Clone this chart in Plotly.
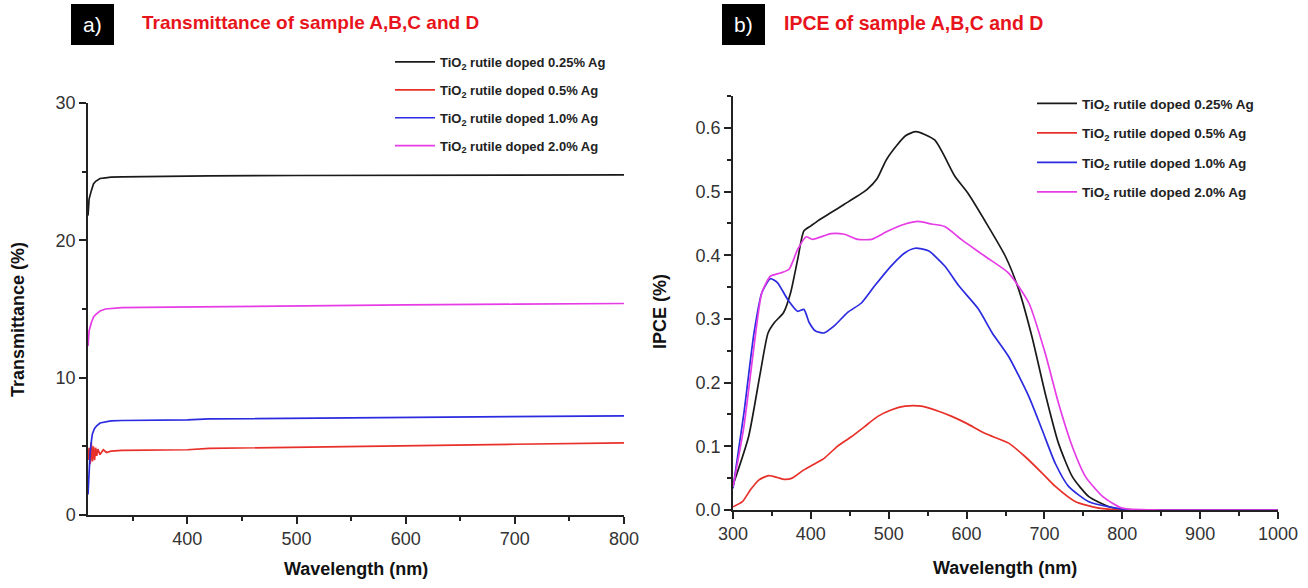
import plotly.graph_objects as go

# ---------------- data ----------------
series_names = [
    "TiO<sub>2</sub> rutile doped 0.25% Ag",
    "TiO<sub>2</sub> rutile doped 0.5% Ag",
    "TiO<sub>2</sub> rutile doped 1.0% Ag",
    "TiO<sub>2</sub> rutile doped 2.0% Ag",
]
colors = ["#1a1a1a", "#e8302a", "#2b2be0", "#e63ce6"]

# Transmittance (panel a)
tr_x_black = [309, 310, 312, 314, 316, 318, 320, 325, 330, 340, 350, 380, 420, 500, 600, 700, 800]
tr_y_black = [21.8, 23.0, 23.6, 24.1, 24.3, 24.4, 24.5, 24.55, 24.6, 24.62, 24.63, 24.65, 24.7, 24.72, 24.74, 24.75, 24.76]
tr_x_red = [309, 310, 311, 312, 313, 314, 315, 316, 317, 318, 320, 323, 326, 330, 340, 360, 400, 420, 500, 600, 700, 800]
tr_y_red = [4.0, 4.9, 3.7, 5.3, 3.9, 5.0, 4.0, 4.9, 4.3, 4.8, 4.4, 4.75, 4.55, 4.65, 4.7, 4.72, 4.75, 4.85, 4.95, 5.05, 5.15, 5.25]
tr_x_blue = [309, 310, 311, 312, 313, 315, 317, 320, 325, 330, 340, 360, 400, 420, 500, 600, 700, 800]
tr_y_blue = [1.5, 3.5, 4.6, 5.3, 5.9, 6.3, 6.5, 6.7, 6.8, 6.85, 6.88, 6.9, 6.92, 7.0, 7.05, 7.1, 7.15, 7.22]
tr_x_mag = [309, 310, 312, 314, 316, 318, 320, 325, 330, 340, 360, 400, 420, 500, 600, 700, 800]
tr_y_mag = [12.3, 13.4, 14.0, 14.4, 14.6, 14.75, 14.85, 15.0, 15.05, 15.1, 15.12, 15.15, 15.2, 15.25, 15.3, 15.35, 15.4]

# IPCE (panel b)
ip_x_black = [300, 320, 335, 345, 353, 365, 374, 383, 391, 400, 409, 426, 443, 460, 472, 485, 497, 510, 522, 535, 559, 585, 602, 628, 650, 667, 684, 701, 718, 736, 757, 783, 800, 850, 1000]
ip_y_black = [0.039, 0.115, 0.215, 0.278, 0.294, 0.31, 0.341, 0.393, 0.438, 0.446, 0.454, 0.467, 0.48, 0.493, 0.503, 0.52, 0.55, 0.572, 0.588, 0.594, 0.581, 0.524, 0.497, 0.445, 0.398, 0.346, 0.272, 0.183, 0.105, 0.052, 0.021, 0.005, 0.001, 0.0, 0.0]
ip_x_red = [300, 312, 322, 333, 346, 357, 366, 376, 391, 404, 417, 434, 452, 469, 486, 503, 521, 542, 564, 581, 600, 624, 654, 675, 697, 714, 740, 770, 800, 850, 1000]
ip_y_red = [0.005, 0.013, 0.031, 0.047, 0.054, 0.051, 0.048, 0.05, 0.063, 0.072, 0.081, 0.1, 0.115, 0.131, 0.147, 0.157, 0.163, 0.163, 0.155, 0.147, 0.136, 0.12, 0.105, 0.084, 0.058, 0.037, 0.013, 0.003, 0.0, 0.0, 0.0]
ip_x_blue = [300, 314, 327, 337, 348, 357, 370, 383, 391, 398, 406, 417, 430, 447, 465, 482, 503, 521, 534, 551, 572, 590, 615, 633, 654, 680, 697, 714, 731, 757, 792, 810, 850, 1000]
ip_y_blue = [0.034, 0.152, 0.278, 0.341, 0.363, 0.357, 0.331, 0.312, 0.315, 0.294, 0.281, 0.278, 0.289, 0.31, 0.325, 0.352, 0.383, 0.404, 0.411, 0.407, 0.383, 0.352, 0.316, 0.278, 0.241, 0.178, 0.126, 0.073, 0.037, 0.013, 0.003, 0.0, 0.0, 0.0]
ip_x_mag = [300, 314, 327, 337, 348, 361, 372, 383, 394, 402, 426, 443, 460, 478, 499, 521, 538, 555, 572, 594, 624, 654, 680, 701, 718, 736, 753, 775, 800, 850, 1000]
ip_y_mag = [0.036, 0.131, 0.257, 0.341, 0.367, 0.372, 0.378, 0.409, 0.429, 0.425, 0.434, 0.433, 0.425, 0.425, 0.438, 0.449, 0.453, 0.449, 0.445, 0.424, 0.398, 0.372, 0.325, 0.246, 0.168, 0.099, 0.052, 0.021, 0.003, 0.0, 0.0]

tr_data = [(tr_x_black, tr_y_black), (tr_x_red, tr_y_red), (tr_x_blue, tr_y_blue), (tr_x_mag, tr_y_mag)]
ip_data = [(ip_x_black, ip_y_black), (ip_x_red, ip_y_red), (ip_x_blue, ip_y_blue), (ip_x_mag, ip_y_mag)]

# ---------------- figure ----------------
W, H = 1308, 588
FONT = "Liberation Sans, Arial, sans-serif"
fig = go.Figure()

for i, (xs, ys) in enumerate(tr_data):
    fig.add_trace(go.Scatter(x=xs, y=ys, mode="lines", name="<b>" + series_names[i] + "</b>",
                             line=dict(color=colors[i], width=1.7),
                             xaxis="x", yaxis="y", legend="legend",
                             legendgroup="a%d" % i))
for i, (xs, ys) in enumerate(ip_data):
    fig.add_trace(go.Scatter(x=xs, y=ys, mode="lines", name="<b>" + series_names[i] + "</b>",
                             line=dict(color=colors[i], width=1.7, shape="spline", smoothing=0.6),
                             xaxis="x2", yaxis="y2", legend="legend2",
                             legendgroup="b%d" % i))

def px(x):
    return x / W

def py(y):
    return 1 - y / H

tickfont = dict(family=FONT, size=18, color="#333333")
minor_common = dict(ticks="outside", ticklen=4, tickwidth=1.5, tickcolor="#222222")
axis_common = dict(showgrid=False, zeroline=False, showline=True, linecolor="#222222",
                   linewidth=1.5, ticks="outside", ticklen=7, tickwidth=1.5,
                   tickcolor="#222222", tickfont=tickfont, mirror=False, automargin=False)

legend_common = dict(bgcolor="rgba(0,0,0,0)", traceorder="grouped",
                     xanchor="left", yanchor="top", itemclick=False, itemwidth=40)

fig.update_layout(
    width=W, height=H,
    margin=dict(l=0, r=0, t=0, b=0),
    paper_bgcolor="white", plot_bgcolor="white",
    showlegend=True,
    xaxis=dict(domain=[px(88), px(624)], range=[309, 800], dtick=100, tick0=0,
               minor=dict(dtick=50, tick0=0, **minor_common),
               anchor="y", **axis_common),
    yaxis=dict(domain=[py(515), py(103)], range=[0, 30], dtick=10, tick0=0,
               minor=dict(dtick=5, tick0=0, **minor_common),
               anchor="x", **axis_common),
    xaxis2=dict(domain=[px(733), px(1278)], range=[300, 1000], dtick=100, tick0=0,
                minor=dict(dtick=50, tick0=0, **minor_common),
                anchor="y2", **axis_common),
    yaxis2=dict(domain=[py(510), py(96)], range=[0, 0.65], dtick=0.1, tick0=0, tickformat=".1f",
                minor=dict(dtick=0.05, tick0=0, **minor_common),
                anchor="x2", **axis_common),
    legend=dict(x=px(390), y=py(47), tracegroupgap=8,
                font=dict(family=FONT, size=13, color="#222222"), **legend_common),
    legend2=dict(x=px(1032), y=py(88), tracegroupgap=9,
                 font=dict(family=FONT, size=13.5, color="#222222"), **legend_common),
)

# axis titles
axis_titles = [
    ("Wavelength (nm)", 356, 569, 0),
    ("Wavelength (nm)", 1005, 568, 0),
    ("Transmittance (%)", 18, 320, -90),
    ("IPCE (%)", 660, 312, -90),
]
for txt, x, y, ang in axis_titles:
    fig.add_annotation(xref="paper", yref="paper", x=px(x), y=py(y), text="<b>%s</b>" % txt,
                       showarrow=False, xanchor="center", yanchor="middle", textangle=ang,
                       font=dict(family=FONT, size=18, color="#111111"))

# panel labels (black boxes) and red titles
for (x0, x1, lab) in [(71, 114, "a)"), (722, 765, "b)")]:
    fig.add_shape(type="rect", xref="paper", yref="paper", x0=px(x0), x1=px(x1), y0=py(45), y1=py(4),
                  fillcolor="black", line=dict(width=0), layer="above")
    fig.add_annotation(xref="paper", yref="paper", x=px((x0 + x1) / 2), y=py(25), text=lab,
                       showarrow=False, xanchor="center", yanchor="middle",
                       font=dict(family=FONT, size=21, color="white"))

fig.add_annotation(xref="paper", yref="paper", x=px(140), y=py(23),
                   text="<b>Transmittance of sample A,B,C and D</b>", showarrow=False,
                   xanchor="left", yanchor="middle",
                   font=dict(family=FONT, size=19, color="#e8141c"))
fig.add_annotation(xref="paper", yref="paper", x=px(782), y=py(23),
                   text="<b>IPCE of sample A,B,C and D</b>", showarrow=False,
                   xanchor="left", yanchor="middle",
                   font=dict(family=FONT, size=19.5, color="#e8141c"))

fig.write_html("out.html")
